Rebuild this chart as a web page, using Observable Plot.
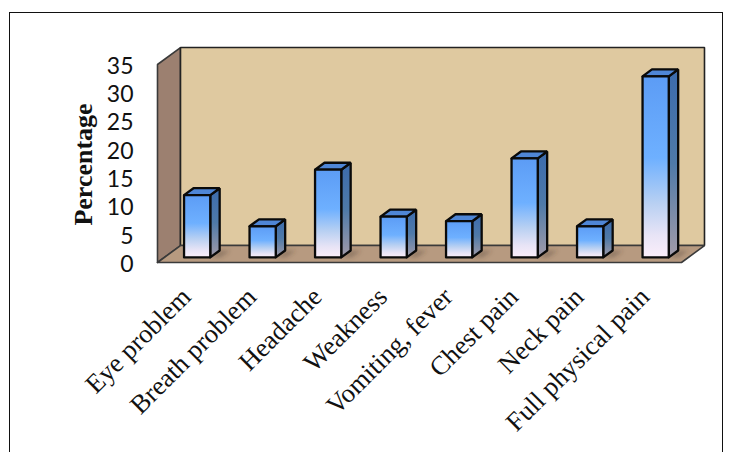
<!DOCTYPE html>
<html>
<head>
<meta charset="utf-8">
<script src="https://cdn.jsdelivr.net/npm/d3@7"></script>
<script src="https://cdn.jsdelivr.net/npm/@observablehq/plot@0.6"></script>
<style>
html,body{margin:0;padding:0;background:#fff;overflow:hidden}
#box{position:relative;width:750px;height:452px;overflow:hidden}
#border{position:absolute;left:9px;top:12px;width:712px;height:600px;border:1.5px solid #111;box-sizing:content-box}
#chart{position:absolute;left:0;top:0}
svg{background:transparent!important}
</style>
</head>
<body>
<div id="box"><div id="border"></div><div id="chart"></div></div>
<script>
const categories = ["Eye problem","Breath problem","Headache","Weakness","Vomiting, fever","Chest pain","Neck pain","Full physical pain"];
const values = [11, 5.5, 15.5, 7.2, 6.4, 17.5, 5.5, 32];
const yTicks = [0,5,10,15,20,25,30,35];

const xMin = -0.5, xMax = 7.5, yMax = 35;
const depthX = 0.351, depthY = 3.0;        // box depth in data units
const barHalf = 0.2, barD0 = 0.3, barD1 = 0.71; // bar half-width and depth span

const at = (x, y, d, id) => ({x: x + d * depthX, y: y + d * depthY, id});
const poly = (id, pts) => [...pts, pts[0]].map(([x, y, d]) => at(x, y, d, id));

const wallLeft = poly("l", [[xMin,0,0],[xMin,yMax,0],[xMin,yMax,1],[xMin,0,1]]);
const wallBack = poly("b", [[xMin,0,1],[xMax,0,1],[xMax,yMax,1],[xMin,yMax,1]]);
const floor = poly("f", [[xMin,0,0],[xMax,0,0],[xMax,0,1],[xMin,0,1]]);

const front = [], side = [], top_ = [], shadow = [];
values.forEach((v, i) => {
  const a = i - barHalf, b = i + barHalf;
  front.push(...poly(i, [[a,0,barD0],[b,0,barD0],[b,v,barD0],[a,v,barD0]]));
  side.push(...poly(i, [[b,0,barD0],[b,0,barD1],[b,v,barD1],[b,v,barD0]]));
  top_.push(...poly(i, [[a,v,barD0],[b,v,barD0],[b,v,barD1],[a,v,barD1]]));
  shadow.push(...poly(i, [[b,0,barD0],[b+0.16,0,barD0],[b+0.16,0,barD1],[b,0,barD1]]));
});

function defs() {
  const d = d3.create("svg:defs");
  const grad = (id, stops) => {
    const g = d.append("linearGradient").attr("id", id).attr("x1",0).attr("y1",0).attr("x2",0).attr("y2",1);
    stops.forEach(([o, c]) => g.append("stop").attr("offset", o).attr("stop-color", c));
  };
  grad("gFront", [[0,"#5c9cf5"],[0.45,"#6eb0ff"],[0.7,"#b8d0f2"],[0.88,"#e8e4f6"],[1,"#fbeefa"]]);
  grad("gSide", [[0,"#3c6bad"],[0.5,"#4f7aa8"],[1,"#a29ba8"]]);
  const f = d.append("filter").attr("id","soft").attr("x","-50%").attr("y","-50%").attr("width","200%").attr("height","200%");
  f.append("feGaussianBlur").attr("stdDeviation",2);
  return d.node();
}

const face = (data, fill, extra = {}) => Plot.line(data, {x:"x", y:"y", z:"id", fill, stroke:"#0a0a0a", strokeWidth:2.3, curve:"linear", strokeLinejoin:"miter", ...extra});

const plot = Plot.plot({
  width: 750, height: 452,
  marginLeft: 157, marginRight: 69, marginTop: 64, marginBottom: 190,
  style: {background:"transparent", overflow:"visible"},
  x: {domain:[xMin, xMax], axis:null},
  y: {domain:[0, yMax], axis:null},
  marks: [
    defs,
    face(wallLeft, "#9c8070", {stroke:"#3a3a3a", strokeWidth:1.6}),
    face(wallBack, "#dfc9a0", {stroke:"#222", strokeWidth:1.6}),
    face(floor, "#b79a80", {stroke:"#3a3a3a", strokeWidth:1.6}),
    Plot.line(shadow, {x:"x", y:"y", z:"id", fill:"#4a3a30", fillOpacity:0.35, stroke:"none", curve:"linear",
      render(i, s, v, d, c, next) { const g = next(i, s, v, d, c); g.setAttribute("filter","url(#soft)"); return g; }}),
    face(side, "url(#gSide)"),
    face(top_, "#4f86d6"),
    face(front, "url(#gFront)"),
    Plot.axisY({ticks:yTicks, tickSize:0, tickPadding:24, label:null, fontSize:23, dy:2, fontFamily:"Lato, sans-serif", fill:"#111"}),
    Plot.text(categories, {x:(d,i)=>i, y:()=>0, text:d=>d, rotate:-45, textAnchor:"end", dy:30, dx:-4,
      fontSize:26.5, fontFamily:"Liberation Serif, serif", fill:"#111"}),
    Plot.text(["Percentage"], {frameAnchor:"left", textAnchor:"middle", rotate:-90, dx:-74, dy:1, text:d=>d,
      fontSize:26, fontWeight:"bold", fontFamily:"Liberation Serif, serif", fill:"#111"})
  ]
});
document.getElementById("chart").append(plot);
</script>
</body>
</html>
